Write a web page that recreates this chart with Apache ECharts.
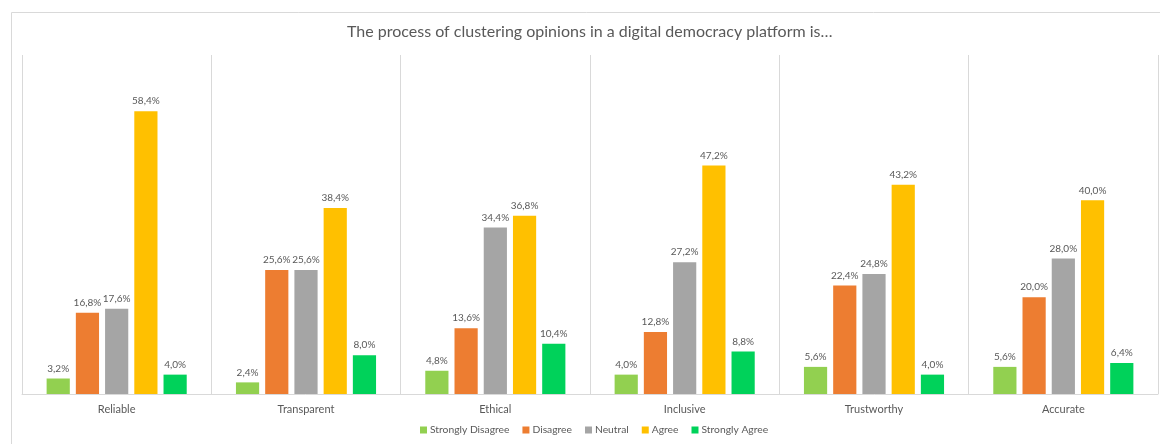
<!DOCTYPE html>
<html>
<head>
<meta charset="utf-8">
<script src="https://cdn.jsdelivr.net/npm/echarts@6/dist/echarts.min.js"></script>
<style>
html,body{margin:0;padding:0;background:#fff;}
#main{width:1160px;height:444px;}
</style>
</head>
<body>
<div id="main"></div>
<script>
const categories = ['Reliable', 'Transparent', 'Ethical', 'Inclusive', 'Trustworthy', 'Accurate'];
const seriesNames = ['Strongly Disagree', 'Disagree', 'Neutral', 'Agree', 'Strongly Agree'];
const stronglyDisagree = [3.2, 2.4, 4.8, 4.0, 5.6, 5.6];
const disagree = [16.8, 25.6, 13.6, 12.8, 22.4, 20.0];
const neutral = [17.6, 25.6, 34.4, 27.2, 24.8, 28.0];
const agree = [58.4, 38.4, 36.8, 47.2, 43.2, 40.0];
const stronglyAgree = [4.0, 8.0, 10.4, 8.8, 4.0, 6.4];
const colors = ['#92D050', '#ED7D31', '#A5A5A5', '#FFC000', '#00D25A'];

const FONT = 'Lato, "Open Sans", sans-serif';
const values = [stronglyDisagree, disagree, neutral, agree, stronglyAgree];

const chart = echarts.init(document.getElementById('main'), null, {renderer: 'canvas'});
chart.setOption({
  animation: false,
  textStyle: {fontFamily: FONT},
  title: {
    text: 'The process of clustering opinions in a digital democracy platform is…',
    left: 342, top: 19,
    textStyle: {fontFamily: FONT, fontSize: 16, fontWeight: 'normal', color: '#595959'}
  },
  graphic: [{
    type: 'rect', left: 9, top: 10, silent: true, z: -10,
    shape: {width: 1200, height: 480},
    style: {fill: 'none', stroke: '#d9d9d9', lineWidth: 1}
  }],
  legend: {
    data: seriesNames,
    bottom: 4, left: 415,
    itemWidth: 7, itemHeight: 7, itemGap: 13,
    icon: 'rect',
    textStyle: {fontFamily: FONT, fontSize: 10.3, color: '#595959', padding: [0, 0, 0, -2]}
  },
  grid: {left: 22, right: 2, top: 55, bottom: 50, containLabel: false},
  xAxis: {
    type: 'category', data: categories,
    axisLine: {show: true, lineStyle: {color: '#d9d9d9'}},
    axisTick: {show: false},
    splitLine: {show: true, lineStyle: {color: '#d9d9d9'}},
    axisLabel: {fontFamily: FONT, fontSize: 11, color: '#595959', margin: 10}
  },
  yAxis: {
    type: 'value', min: 0, max: 70,
    show: false, splitLine: {show: false}
  },
  series: seriesNames.map((name, i) => ({
    name: name, type: 'bar',
    data: values[i],
    itemStyle: {color: colors[i]},
    barGap: '26%', barCategoryGap: '26%',
    label: {
      show: true, position: 'top', distance: 5,
      fontFamily: FONT, fontSize: 10, color: '#595959',
      formatter: p => p.value.toFixed(1).replace('.', ',') + '%'
    }
  }))
});
</script>
</body>
</html>
